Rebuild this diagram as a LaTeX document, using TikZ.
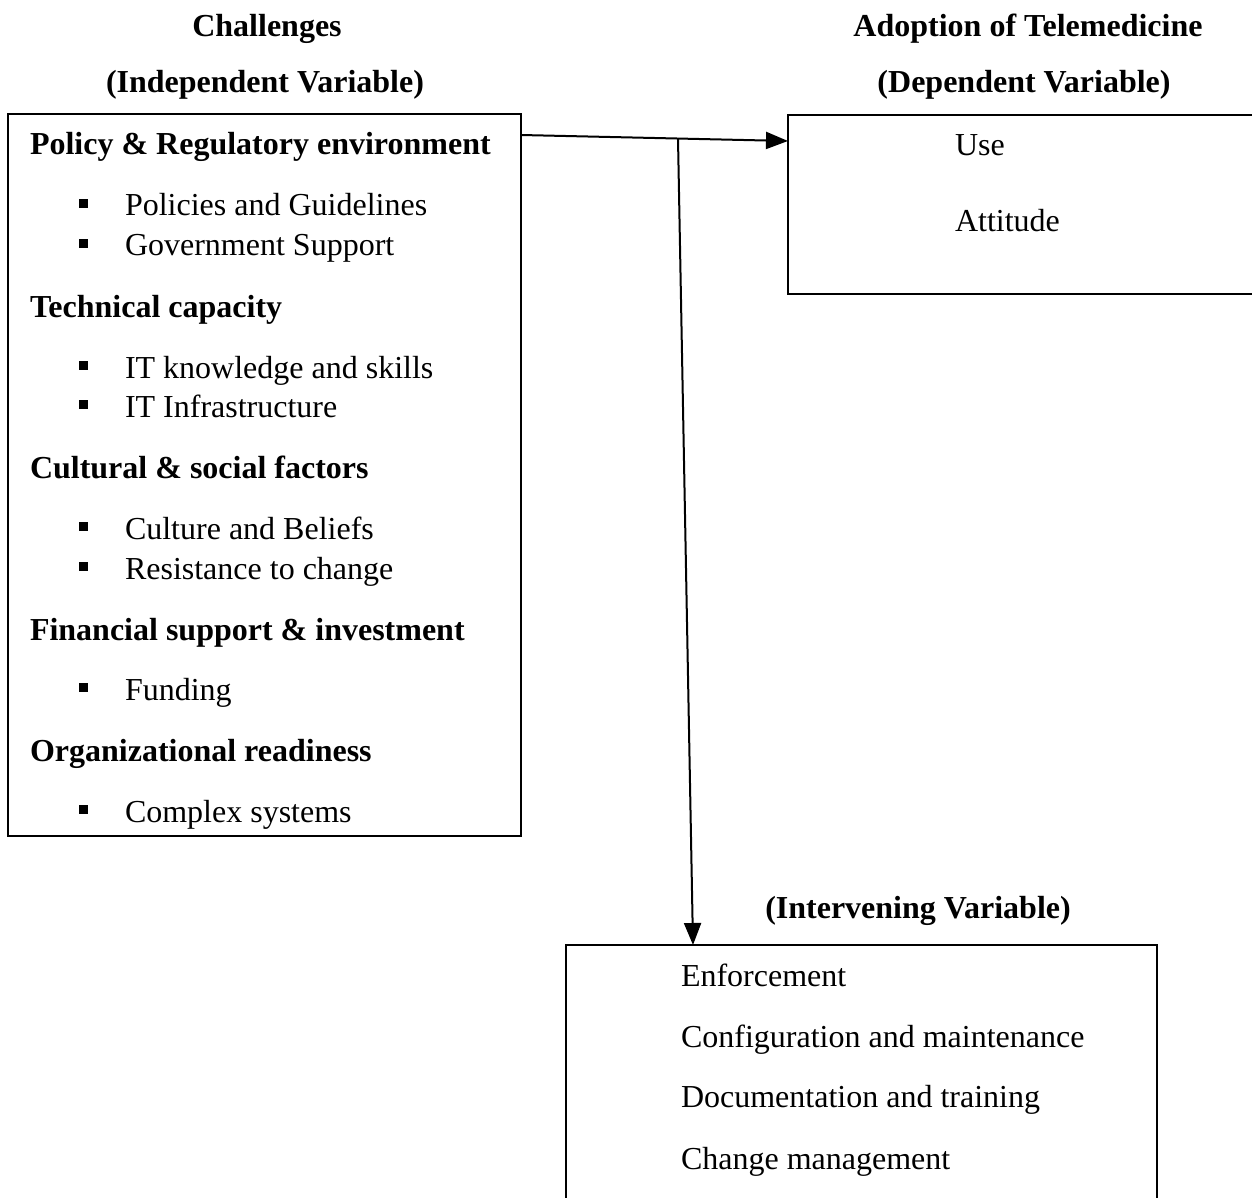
\documentclass[tikz,border=0pt]{standalone}
\usepackage{fontspec}
\setmainfont{Liberation Serif}
\usetikzlibrary{arrows.meta,calc}
\begin{document}
\begin{tikzpicture}[x=1pt,y=-1pt,
  every node/.style={inner sep=0pt,outer sep=0pt,font=\fontsize{32}{38}\selectfont},
  box/.style={draw,line width=2pt,anchor=north west},
  txt/.style={anchor=base west},
  head/.style={anchor=base,font=\fontsize{32}{38}\selectfont\bfseries},
  cat/.style={anchor=base west,font=\fontsize{32}{38}\selectfont\bfseries},
  arr/.style={line width=2pt,-{Triangle[length=22pt,width=17pt]}},
  bul/.style={fill=black,minimum size=9pt,anchor=center}]
\useasboundingbox (0,0) rectangle (1252,1198);
% headings
\node[head] (h1) at (267,37) {Challenges};
\node[head] (h2) at (265,93) {(Independent Variable)};
\node[head] (h3) at (1028,37) {Adoption of Telemedicine};
\node[head] (h4) at (1024,93) {(Dependent Variable)};
\node[head] (h5) at (918,918) {(Intervening Variable)};
% boxes
\node[box,minimum width=513pt,minimum height=722pt] (L) at (8,114) {};
\node[box,minimum width=480pt,minimum height=179pt] (R) at (788,115) {};
\node[box,minimum width=591pt,minimum height=270pt] (I) at (566,945) {};
% left box content
\node[cat] (c1) at (30,155) {Policy \& Regulatory environment};
\node[txt] (t1) at (125,216) {Policies and Guidelines};
\node[txt] (t2) at (125,256) {Government Support};
\node[cat] (c2) at (30,317) {Technical capacity};
\node[txt] (t3) at (125,378) {IT knowledge and skills};
\node[txt] (t4) at (125,417) {IT Infrastructure};
\node[cat] (c3) at (30,478) {Cultural \& social factors};
\node[txt] (t5) at (125,539) {Culture and Beliefs};
\node[txt] (t6) at (125,579) {Resistance to change};
\node[cat] (c4) at (30,640) {Financial support \& investment};
\node[txt] (t7) at (125,700) {Funding};
\node[cat] (c5) at (30,761) {Organizational readiness};
\node[txt] (t8) at (125,822) {Complex systems};
\foreach \n/\y in {b1/216,b2/256,b3/378,b4/417,b5/539,b6/579,b7/700,b8/822}
  \node[bul] (\n) at (83,\y-12.5) {};
% right box content
\node[txt] (u1) at (955,156) {Use};
\node[txt] (u2) at (955,232) {Attitude};
% intervening content
\node[txt] (i1) at (681,986) {Enforcement};
\node[txt] (i2) at (681,1047) {Configuration and maintenance};
\node[txt] (i3) at (681,1107) {Documentation and training};
\node[txt] (i4) at (681,1169) {Change management};
% connectors
\coordinate (a1s) at ($(L.north east)+(0,21)$);
\coordinate (a1e) at ($(R.north west)+(0,26)$);
\coordinate (a2s) at ($(a1s)!0.588!(a1e)$);
\coordinate (a2e) at ($(I.north west)+(127,0)$);
\draw[arr] (a1s) -- (a1e);
\draw[arr] (a2s) -- (a2e);
\end{tikzpicture}
\end{document}
